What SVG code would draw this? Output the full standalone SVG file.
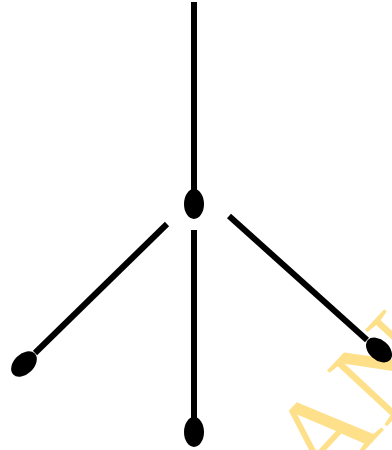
<svg xmlns="http://www.w3.org/2000/svg" width="392" height="450" viewBox="0 0 392 450">
<style>
.e{stroke:#000;stroke-width:6;fill:none;stroke-linecap:butt}
.n{fill:#000}
.wm{font-family:"Liberation Serif",serif;font-size:125px;fill:#FFE08A}
</style>
<rect width="392" height="450" fill="#fff"/>
<text class="wm" transform="translate(323,495) rotate(-47)">AN</text>
<g id="connectors">
<line class="e" x1="194" y1="2" x2="194" y2="190"/>
<line class="e" x1="167" y1="224" x2="35" y2="353"/>
<line class="e" x1="194" y1="230" x2="194" y2="418"/>
<line class="e" x1="229" y1="216" x2="367" y2="340"/>
</g>
<g id="n-center"><ellipse class="n" cx="194" cy="204" rx="10" ry="15"/></g>
<g id="n-left"><ellipse class="n" cx="24" cy="364" rx="15" ry="10" transform="rotate(-44 24 364)"/></g>
<g id="n-bottom"><ellipse class="n" cx="194" cy="432" rx="10" ry="15"/></g>
<g id="n-right"><ellipse class="n" cx="379" cy="350" rx="15" ry="10" transform="rotate(42 379 350)"/></g>
</svg>
